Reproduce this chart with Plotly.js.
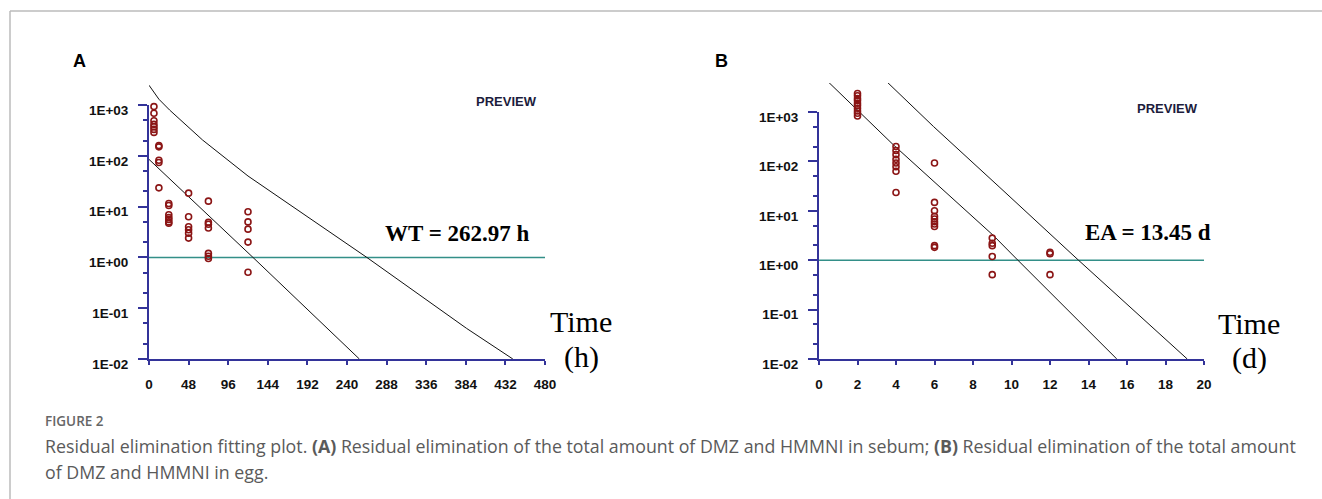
<!DOCTYPE html>
<html>
<head>
<meta charset="utf-8">
<script src="https://cdn.plot.ly/plotly-3.0.1.min.js"></script>
<style>
html,body{margin:0;padding:0;background:#fff;}
#chart{width:1322px;height:499px;}
</style>
</head>
<body>
<div id="chart"></div>
<script>
// ---------- DATA ----------
// Panel A: residues in sebum vs time (h)
const hoursA = [6,6,6,6,6,6,6, 12,12,12,12,12, 24,24,24,24,24,24,24, 48,48,48,48,48,48, 72,72,72,72,72,72,72, 120,120,120,120,120];
const residueA = [930,686,490,416,373,331,289, 160,150,82,74,23.4, 11.5,10.5,6.9,6.1,5.6,5.0,4.7, 18.4,6.3,4.0,3.5,3.0,2.4, 12.8,4.9,4.5,3.8,1.2,1.05,0.95, 7.9,5.0,3.6,2.0,0.51];
// Panel B: residues in egg vs time (d)
const daysB = [2,2,2,2,2,2,2,2,2,2, 4,4,4,4,4,4,4,4, 6,6,6,6,6,6,6,6,6,6, 9,9,9,9,9, 12,12,12];
const residueB = [2370,2140,1880,1700,1500,1350,1190,1050,945,830, 200,166,137,110,93,78,63,23.4, 93,14.8,10,7.7,6.8,6.0,5.4,4.8,1.97,1.82, 2.8,2.2,1.97,1.19,0.51, 1.45,1.35,0.51];
// Regression line and upper tolerance limit, panel A
const fitA_t = [0, 126, 255];
const fitA_c = [85, 1, 0.01];
const upperA_t = [0, 12, 25, 45, 65, 120, 183, 264, 385, 441];
const upperA_c = [2450, 1300, 795, 400, 204, 40, 7.9, 1.0, 0.04, 0.01];
// Regression line and upper tolerance limit, panel B
const fitB_t = [0.5, 3.86, 9.06, 10.33, 15.47];
const fitB_c = [4000, 217, 3.16, 1.0, 0.01];
const upperB_t = [3.55, 5.95, 9.4, 13.48, 19.13];
const upperB_c = [4000, 507, 29.5, 1.0, 0.01];
// MRL line (1 µg/kg)
const limitA_t = [0, 480];
const limitB_t = [0, 20];
const limitValue = [1, 1];
// Tick labels
const xTicksA = [0, 48, 96, 144, 192, 240, 288, 336, 384, 432, 480];
const xTicksB = [0, 2, 4, 6, 8, 10, 12, 14, 16, 18, 20];
const yTickVals = [0.01, 0.1, 1, 10, 100, 1000];
const yTickText = ['1E-02', '1E-01', '1E+00', '1E+01', '1E+02', '1E+03'];
const yMinorVals = [0.02, 0.05, 0.2, 0.5, 2, 5, 20, 50, 200, 500];
const withdrawalA = 'WT = 262.97 h';
const withdrawalB = 'EA = 13.45 d';

// ---------- STYLE ----------
const W = 1322, H = 499;
const NAVY = '#333399', TEAL = '#338f88', RED = '#8b1515', LINE = '#111111';
const px = x => x / W;
const py = y => 1 - y / H;

const markerStyle = {symbol: 'circle-open', size: 6, color: RED, line: {color: RED, width: 1.6}};
function pts(x, y, xa, ya) {
  return {x: x, y: y, xaxis: xa, yaxis: ya, type: 'scatter', mode: 'markers', marker: markerStyle, hoverinfo: 'skip', cliponaxis: false};
}
function ln(x, y, xa, ya, color, width) {
  return {x: x, y: y, xaxis: xa, yaxis: ya, type: 'scatter', mode: 'lines', line: {color: color, width: width}, hoverinfo: 'skip'};
}

const traces = [
  ln(limitA_t, limitValue, 'x', 'y', TEAL, 1.5),
  ln(fitA_t, fitA_c, 'x', 'y3', LINE, 1),
  ln(upperA_t, upperA_c, 'x', 'y3', LINE, 1),
  pts(hoursA, residueA, 'x', 'y3'),
  ln(limitB_t, limitValue, 'x2', 'y2', TEAL, 1.5),
  ln(fitB_t, fitB_c, 'x2', 'y4', LINE, 1),
  ln(upperB_t, upperB_c, 'x2', 'y4', LINE, 1),
  pts(daysB, residueB, 'x2', 'y4')
];

const tickFont = {family: 'Liberation Sans, Arial, sans-serif', size: 13.5, color: '#111', weight: 'bold'};
const bottom = py(359);

function xAxis(dom, ticks, range, anchor) {
  return {
    domain: dom, range: range, anchor: anchor, showgrid: false, zeroline: false,
    showline: true, linecolor: NAVY, linewidth: 2,
    ticks: 'outside', ticklen: 4, tickwidth: 2, tickcolor: NAVY,
    tickmode: 'array', tickvals: ticks, ticktext: ticks.map(String),
    tickfont: tickFont, ticklabelstandoff: 8, fixedrange: true
  };
}
function yAxisVisible(top, anchor) {
  return {
    type: 'log', domain: [bottom, top], range: [-2, 3], anchor: anchor,
    showgrid: false, zeroline: false, showline: true, linecolor: NAVY, linewidth: 2,
    ticks: 'outside', ticklen: 9, tickwidth: 2, tickcolor: NAVY,
    tickmode: 'array', tickvals: yTickVals, ticktext: yTickText,
    tickfont: tickFont, ticklabelstandoff: 7, ticklabelshift: 5,
    minor: {tickmode: 'array', tickvals: yMinorVals, ticks: 'outside', ticklen: 4, tickwidth: 2, tickcolor: NAVY, showgrid: false},
    fixedrange: true
  };
}
function yAxisHidden(topLog, anchor) {
  return {type: 'log', domain: [bottom, py(83)], range: [-2, topLog], anchor: anchor, visible: false, fixedrange: true};
}

const ann = [];
function addText(text, x, y, font, xanchor) {
  ann.push({text: text, x: px(x), y: py(y), xref: 'paper', yref: 'paper', showarrow: false,
    xanchor: xanchor || 'center', yanchor: 'middle', font: font});
}
const panelFont = {family: 'Liberation Sans, Arial, sans-serif', size: 18, color: '#000', weight: 'bold'};
const prevFont = {family: 'Liberation Sans, Arial, sans-serif', size: 13, color: '#1c1c3c', weight: 'bold'};
const wtFont = {family: 'Liberation Serif, Times New Roman, serif', size: 23, color: '#000', weight: 'bold'};
const timeFont = {family: 'Liberation Serif, Times New Roman, serif', size: 30, color: '#000'};
const capFont = {family: 'Open Sans, Noto Sans, sans-serif', size: 17.8, color: '#5a5a5a'};

addText('A', 79.5, 61.5, panelFont);
addText('B', 721.5, 61, panelFont);
addText('PREVIEW', 506, 101.5, prevFont);
addText('PREVIEW', 1167, 108, prevFont);
addText(withdrawalA, 457, 233, wtFont);
addText(withdrawalB, 1148, 232.5, wtFont);
addText('Time', 581, 321, timeFont);
addText('(h)', 581, 357, timeFont);
addText('Time', 1249, 323, timeFont);
addText('(d)', 1249, 358, timeFont);
addText('FIGURE 2', 43, 421, {family: 'Open Sans, Noto Sans, sans-serif', size: 13.5, color: '#666', weight: 600}, 'left');
addText('Residual elimination fitting plot. <b>(A)</b> Residual elimination of the total amount of DMZ and HMMNI in sebum; <b>(B)</b> Residual elimination of the total amount', 43, 446, capFont, 'left');
addText('of DMZ and HMMNI in egg.', 43, 472, capFont, 'left');

const layout = {
  width: W, height: H,
  margin: {l: 0, r: 0, t: 0, b: 0},
  paper_bgcolor: '#fff', plot_bgcolor: 'rgba(0,0,0,0)',
  showlegend: false,
  xaxis: xAxis([px(149), px(545)], xTicksA, [0, 480], 'y'),
  yaxis: yAxisVisible(py(105), 'x'),
  yaxis3: yAxisHidden(3.433, 'x'),
  xaxis2: xAxis([px(819), px(1204)], xTicksB, [0, 20], 'y2'),
  yaxis2: yAxisVisible(py(112), 'x2'),
  yaxis4: yAxisHidden(3.587, 'x2'),
  annotations: ann,
  shapes: [
    {type: 'line', xref: 'paper', yref: 'paper', x0: px(10), x1: px(10), y0: 0, y1: py(11), line: {color: '#bbbbbb', width: 1.5}},
    {type: 'line', xref: 'paper', yref: 'paper', x0: px(10), x1: 1, y0: py(11), y1: py(11), line: {color: '#bbbbbb', width: 1.5}}
  ]
};

Plotly.newPlot('chart', traces, layout, {staticPlot: true, displayModeBar: false});
</script>
</body>
</html>
